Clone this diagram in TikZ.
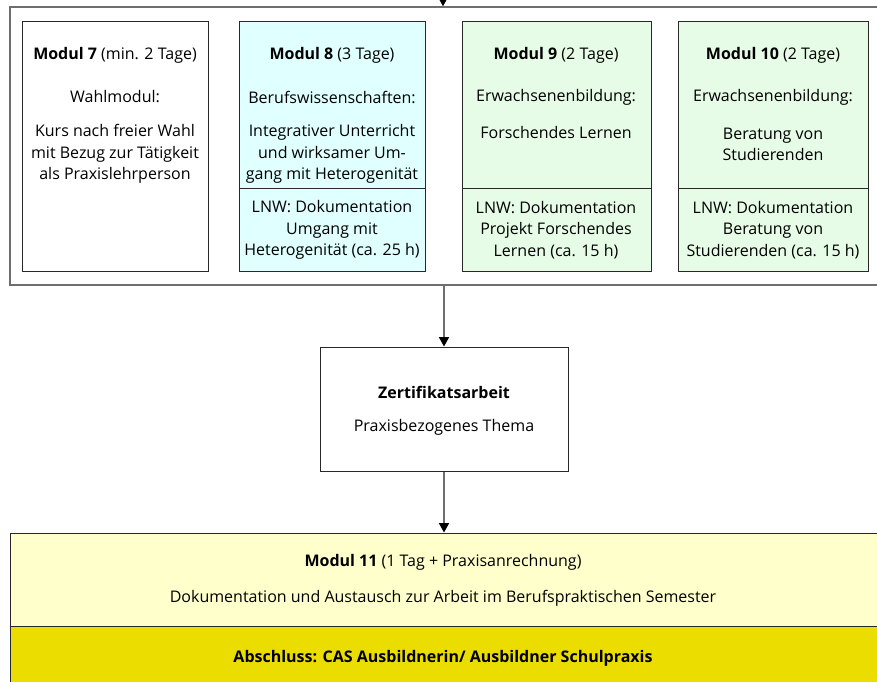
\documentclass[tikz,border=0pt]{standalone}
\usepackage{fontspec}
\setmainfont{Open Sans}
\usetikzlibrary{positioning,calc,fit,arrows.meta}
\definecolor{FrameGray}{RGB}{110,110,110}
\definecolor{BoxLine}{RGB}{40,40,40}
\definecolor{CyanBg}{RGB}{224,255,255}
\definecolor{GreenBg}{RGB}{230,252,230}
\definecolor{LightYellow}{RGB}{255,255,204}
\definecolor{DarkYellow}{RGB}{235,221,0}

\begin{document}
\begin{tikzpicture}[x=0.75pt, y=-0.75pt,
		frame/.style={draw=FrameGray, line width=1.1pt, inner sep=0pt},
		modbox/.style={draw=BoxLine, line width=0.75pt, inner sep=0pt},
		txt/.style={font=\fontsize{12}{15.9}\selectfont, align=center, inner sep=0pt},
		arr/.style={draw=FrameGray, line width=1.1pt, -{Triangle[length=7pt,width=7.5pt,black]}}
		]
		\useasboundingbox (0,0) rectangle (877,681);
		\clip (0,0) rectangle (877,681);
		
		% ===== Rahmen oben mit Modulen 7-10 =====
		\coordinate (in) at (443,-30);
		\node[frame, fit={(10,7) (895,285)}] (rahmen) {};
		\draw[arr] (in) -- (in |- rahmen.north);
		
		\node[modbox, fit={(22,22) (208,271)}] (m7) {};
		\node[modbox, fill=CyanBg, fit={(239,22) (425,271)}] (m8) {};
		\node[modbox, fill=GreenBg, fit={(462,22) (651,271)}] (m9) {};
		\node[modbox, fill=GreenBg, fit={(678,22) (868,271)}] (m10) {};
		
		% Trennlinie LNW
		\foreach \m in {m8,m9,m10}{
			\draw[BoxLine, line width=0.75pt] ($(\m.south west)+(0,-83)$) -- ($(\m.south east)+(0,-83)$);
		}
		
		% Modul 7
		\node[txt] (m7a) at (115,55) {\textbf{Modul 7} (min. 2 Tage)};
		\node[txt] (m7b) at (115,97) {Wahlmodul:};
		\node[txt] (m7c) at (115,154) {Kurs nach freier Wahl\\mit Bezug zur Tätigkeit\\als Praxislehrperson};
		% Modul 8
		\node[txt] (m8a) at (332,55) {\textbf{Modul 8} (3 Tage)};
		\node[txt] (m8b) at (332,97) {Berufswissenschaften:};
		\node[txt] (m8c) at (332,154) {Integrativer Unterricht\\und wirksamer Um-\\gang mit Heterogenität};
		\node[txt] (m8d) at (332,230) {LNW: Dokumentation\\Umgang mit\\Heterogenität (ca. 25 h)};
		% Modul 9
		\node[txt] (m9a) at (556,55) {\textbf{Modul 9} (2 Tage)};
		\node[txt] (m9b) at (556,97) {Erwachsenenbildung:};
		\node[txt] (m9c) at (556,133) {Forschendes Lernen};
		\node[txt] (m9d) at (556,230) {LNW: Dokumentation\\Projekt Forschendes\\Lernen (ca. 15 h)};
		% Modul 10
		\node[txt] (m10a) at (773,55) {\textbf{Modul 10} (2 Tage)};
		\node[txt] (m10b) at (773,97) {Erwachsenenbildung:};
		\node[txt] (m10c) at (773,144) {Beratung von\\Studierenden};
		\node[txt] (m10d) at (773,230) {LNW: Dokumentation\\Beratung von\\Studierenden (ca. 15 h)};
		
		% ===== Zertifikatsarbeit =====
		\node[modbox, fit={(320,347) (568,471)}] (za) {};
		\node[txt] (zaa) at (444,392) {\textbf{Zertifikatsarbeit}};
		\node[txt] (zab) at (444,427) {Praxisbezogenes Thema};
		\draw[arr] (za.north |- rahmen.south) -- (za.north);
		
		% ===== Modul 11 und Abschluss =====
		\node[modbox, fill=LightYellow, fit={(10,533) (895,626)}] (m11) {};
		\node[modbox, fill=DarkYellow, fit={(10,626) (895,700)}] (abs) {};
		\draw[arr] (za.south) -- (za.south |- m11.north);
		
		\node[txt] (m11a) at (443,562) {\textbf{Modul 11} (1 Tag + Praxisanrechnung)};
		\node[txt] (m11b) at (443,598) {Dokumentation und Austausch zur Arbeit im Berufspraktischen Semester};
		\node[txt] (absa) at (443,658) {\textbf{Abschluss: CAS Ausbildnerin/ Ausbildner Schulpraxis}};
		
	\end{tikzpicture}
\end{document}
